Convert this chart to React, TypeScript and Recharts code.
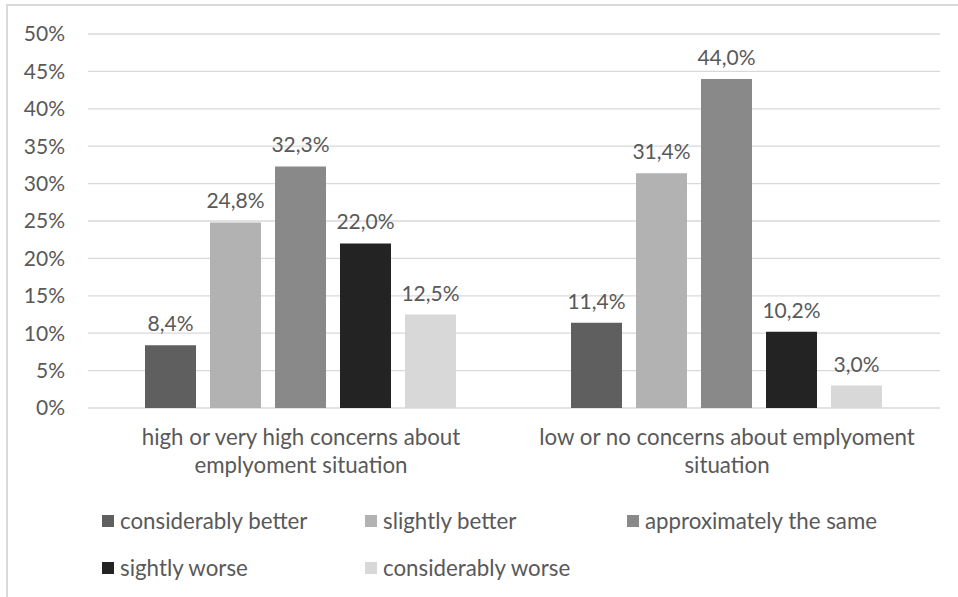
import React from "react";
import { BarChart, Bar, XAxis, YAxis, CartesianGrid, LabelList, Legend } from "recharts";

const categories = [
  "high or very high concerns about\nemplyoment situation",
  "low or no concerns about emplyoment\nsituation",
];
const seriesNames = [
  "considerably better",
  "slightly better",
  "approximately the same",
  "sightly worse",
  "considerably worse",
];
const considerablyBetter = [8.4, 11.4];
const slightlyBetter = [24.8, 31.4];
const approximatelySame = [32.3, 44.0];
const sightlyWorse = [22.0, 10.2];
const considerablyWorse = [12.5, 3.0];
const yTicks = [0, 5, 10, 15, 20, 25, 30, 35, 40, 45, 50];

const colors = ["#5f5f5f", "#b2b2b2", "#898989", "#232323", "#d8d8d8"];
const keys = ["s0", "s1", "s2", "s3", "s4"];
const seriesValues = [considerablyBetter, slightlyBetter, approximatelySame, sightlyWorse, considerablyWorse];

const data = categories.map((c, i) => {
  const row: any = { name: c };
  seriesValues.forEach((vals, k) => {
    row[keys[k]] = vals[i];
  });
  return row;
});

const FONT = "Lato, 'Open Sans', sans-serif";
const TEXT = "#595959";
const FS = 21;
const FS_BIG = 22.3;

const fmtLabel = (v: any) => `${Number(v).toFixed(1).replace(".", ",")}%`;

const CatTick = (props: any) => {
  const { x, y, payload } = props;
  const lines = String(payload.value).split("\n");
  return (
    <text x={x} y={y} textAnchor="middle" fill={TEXT} fontSize={FS_BIG} fontFamily={FONT}>
      {lines.map((l, i) => (
        <tspan key={i} x={x} dy={i === 0 ? 29 : 28}>
          {l}
        </tspan>
      ))}
    </text>
  );
};

const legendPos = [
  { left: 102, top: 510 },
  { left: 365, top: 510 },
  { left: 627, top: 510 },
  { left: 102, top: 557 },
  { left: 365, top: 557 },
];

const renderLegend = (props: any) => {
  const payload = [...(props.payload || [])].sort(
    (a: any, b: any) => seriesNames.indexOf(a.value) - seriesNames.indexOf(b.value)
  );
  return (
    <div style={{ position: "relative", width: 958, height: 0 }}>
      {payload.map((p: any, i: number) => (
        <div
          key={i}
          style={{
            position: "absolute",
            left: legendPos[i].left,
            top: legendPos[i].top,
            display: "flex",
            alignItems: "center",
            fontFamily: FONT,
            fontSize: FS_BIG,
            color: TEXT,
            whiteSpace: "nowrap",
            lineHeight: "22px",
          }}
        >
          <span style={{ display: "inline-block", width: 12, height: 12, background: p.color, marginRight: 6 }} />
          {p.value}
        </div>
      ))}
    </div>
  );
};

export default function App() {
  return (
    <div style={{ position: "absolute", left: 0, top: 0, width: 958, height: 597, background: "#fff", overflow: "hidden" }}>
      <div style={{ position: "absolute", left: 6, top: 4, width: 960, height: 600, borderLeft: "2px solid #d9d9d9", borderTop: "2px solid #d9d9d9" }} />
      <BarChart
        width={958}
        height={597}
        data={data}
        margin={{ top: 34, right: 18, bottom: 129, left: 0 }}
        barGap={14}
        barCategoryGap={57}
        style={{ position: "absolute", left: 0, top: 0 }}
      >
        <CartesianGrid vertical={false} stroke="#d9d9d9" strokeWidth={1.3} />
        <XAxis dataKey="name" axisLine={false} tickLine={false} tick={<CatTick />} interval={0} height={60} />
        <YAxis
          domain={[0, 50]}
          ticks={yTicks}
          tickFormatter={(v: number) => `${v}%`}
          axisLine={false}
          tickLine={false}
          tickSize={0}
          tickMargin={23}
          width={88}
          tick={{ fill: TEXT, fontSize: FS, fontFamily: FONT }}
        />
        <Legend content={renderLegend} wrapperStyle={{ position: "absolute", left: 0, top: 0, width: 958, height: 0 }} />
        {keys.map((k, i) => (
          <Bar key={k} dataKey={k} name={seriesNames[i]} fill={colors[i]} isAnimationActive={false}>
            <LabelList
              dataKey={k}
              position="top"
              offset={14}
              formatter={fmtLabel}
              fill={TEXT}
              fontSize={FS}
              fontFamily={FONT}
            />
          </Bar>
        ))}
      </BarChart>
    </div>
  );
}
